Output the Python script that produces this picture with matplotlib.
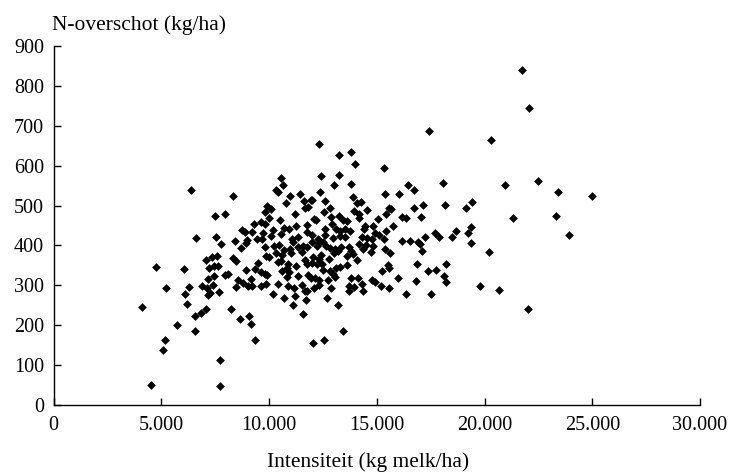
import matplotlib
matplotlib.use("Agg")
import matplotlib.pyplot as plt
from matplotlib.ticker import FixedLocator

plt.rcParams['font.family'] = ['Liberation Serif', 'DejaVu Serif']

# Intensity (kg milk/ha)
intensity = [
    6370, 8320, 7505, 7960, 6620, 7550, 7770, 4730, 6040, 5215, 6290, 6075, 6195, 4110, 6555, 6825,
    7055, 5730, 6555, 5170, 5075, 7725, 4535, 7740, 8225, 8660, 9045, 9160, 9325, 7690, 7150, 7245,
    6885, 7115, 7385, 7180, 7460, 7970, 8085, 7085, 7350, 7570, 7225, 7460, 7645, 8395, 8320, 8470,
    8705, 8940, 8985, 8740, 8895, 9300, 9220, 9455, 9675, 8550, 8470, 8785, 9020, 9220, 9175, 8940,
    9325, 9500, 9825, 9980, 9610,
    12320, 13240, 13785, 13985, 15325, 12410, 13225, 13005, 13800, 10540, 10635, 10340, 10420, 10950,
    11450, 11605, 11930, 12010, 10760, 12365, 12570, 15390, 16010, 16450, 13895, 11665, 11790, 12805,
    14095, 14265, 9920, 10075, 9825, 11215, 12540, 13940, 14160, 14560, 15575, 15655, 15435, 16150,
    16335, 14185, 15030, 10015, 10515, 12085, 12180, 12880, 13240, 13425, 13625, 9640, 10170, 10700,
    10915, 11260, 11745, 12585, 12925, 13115, 13300, 13505, 13740, 14470, 14825, 14405, 14920, 15075,
    15400, 15760, 9720, 10075, 10560, 11040, 11355, 11775, 11975, 12245, 12570, 12960, 13300, 13505,
    14315, 14560, 14780, 15340, 16185, 16540, 9795, 10235, 10450, 10670, 11120, 10965, 11355, 11590,
    11775, 11975, 12210, 12290, 12490, 12645, 12830, 13050, 13320, 13720, 13785, 14160, 14360, 14500,
    14720, 14815, 9860, 10295, 10575, 11010, 11510, 11665, 12055, 12290, 12410, 12755, 12990, 13190,
    13625, 13880, 14080, 15355, 15610, 10390, 10530, 10855, 10810, 11260, 11745, 11975, 12210, 12445,
    12490, 12805, 12960, 13100, 13270, 13615, 9640, 9795, 9920, 10575, 10935, 11325, 11825, 11930,
    12130, 12290, 12710, 13040, 15250, 15530, 15575, 15980, 9875, 10420, 10810, 10890, 11135, 11525,
    11755, 12085, 12335, 12850, 13705, 13785, 13940, 14110, 14315, 14780, 14935, 15185, 15560, 16335,
    13690, 14345, 10170, 10700, 11185, 11665, 11710, 12690, 13190, 11090, 11555, 13440, 12525, 12055,
    16745, 16710, 17150, 18050, 18180, 19115, 19405, 17055, 16915, 16990, 17245, 17710, 17865, 18470,
    18690, 19220, 19360, 19345, 17085, 16870, 17350, 17740, 18225, 18130, 18205, 16805, 17525, 17400,
    21745, 22070, 20295, 20950, 22490, 23395, 24970, 21325, 23300, 23940, 20200, 20645, 22025, 19795,
]

# N surplus (kg/ha)
n_surplus = [
    540, 523, 474, 479, 418, 420, 403, 345, 341, 292, 295, 277, 252, 245, 223, 230,
    241, 200, 184, 163, 137, 112, 48, 46, 240, 215, 222, 202, 162, 284, 276, 281,
    297, 294, 301, 315, 324, 326, 329, 363, 371, 374, 344, 348, 348, 410, 369, 361,
    394, 407, 413, 438, 433, 455, 433, 416, 415, 314, 296, 306, 297, 299, 316, 339,
    341, 356, 455, 371, 297,
    656, 626, 636, 604, 594, 575, 578, 552, 555, 570, 553, 538, 533, 524,
    528, 511, 515, 513, 506, 533, 511, 528, 529, 552, 522, 495, 496, 494,
    506, 508, 498, 492, 484, 478, 484, 486, 480, 489, 494, 491, 480, 471,
    470, 469, 466, 470, 463, 466, 464, 471, 475, 463, 461, 459, 438, 444,
    442, 448, 452, 441, 454, 441, 435, 440, 435, 449, 450, 441, 430, 425,
    436, 450, 430, 424, 428, 416, 420, 433, 426, 415, 426, 418, 423, 420,
    421, 419, 416, 415, 411, 411, 395, 398, 400, 388, 409, 391, 396, 398,
    395, 409, 398, 405, 409, 398, 394, 391, 395, 395, 386, 403, 392, 400,
    383, 398, 374, 380, 375, 380, 383, 364, 371, 367, 377, 367, 380, 386,
    373, 378, 363, 392, 382, 358, 361, 354, 344, 349, 354, 356, 353, 354,
    338, 336, 329, 343, 346, 351, 333, 329, 325, 336, 333, 323, 325, 319,
    318, 312, 312, 321, 335, 350, 343, 317, 304, 304, 321, 298, 292, 300,
    286, 292, 300, 293, 299, 318, 296, 319, 302, 312, 309, 297, 292, 278,
    286, 285, 278, 267, 273, 286, 262, 267, 249, 250, 227, 186, 162, 154,
    538, 495, 501, 556, 502, 493, 509, 471, 408, 403, 421, 431, 420, 421,
    436, 431, 445, 405, 385, 354, 336, 339, 352, 323, 307, 310, 278, 687,
    841, 745, 666, 552, 562, 533, 523, 470, 475, 425, 384, 289, 241, 297,
]

x_ticks = [0, 5000, 10000, 15000, 20000, 25000, 30000]
x_tick_labels = ["0", "5.000", "10.000", "15.000", "20.000", "25.000", "30.000"]
y_ticks = [0, 100, 200, 300, 400, 500, 600, 700, 800, 900]

fig = plt.figure(figsize=(7.29, 4.73), dpi=100)
ax = fig.add_axes([0.0737, 0.1448, 0.8866, 0.7569])

ax.scatter(intensity, n_surplus, marker='D', s=20, color='black', linewidths=0)

ax.set_xlim(0, 30000)
ax.set_ylim(0, 900)
ax.xaxis.set_major_locator(FixedLocator(x_ticks))
ax.set_xticklabels(x_tick_labels)
ax.yaxis.set_major_locator(FixedLocator(y_ticks))

for s in ['top', 'right']:
    ax.spines[s].set_visible(False)
for s in ['left', 'bottom']:
    ax.spines[s].set_linewidth(1.0)
    ax.spines[s].set_color('black')

ax.tick_params(axis='both', direction='in', length=5, width=1.0, labelsize=14.5, colors='black')
ax.tick_params(axis='x', pad=8)
ax.tick_params(axis='y', pad=7)

fig.text(0.0713, 0.937, "N-overschot (kg/ha)", fontsize=15.5, ha='left', va='baseline')
fig.text(0.505, 0.012, "Intensiteit (kg melk/ha)", fontsize=15.5, ha='center', va='baseline')

fig.savefig("out.png", dpi=100)
